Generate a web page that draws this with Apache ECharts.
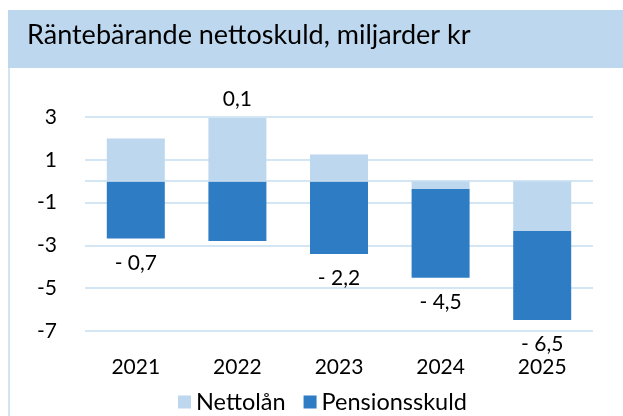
<!DOCTYPE html>
<html>
<head>
<meta charset="utf-8">
<script src="https://cdn.jsdelivr.net/npm/echarts@6/dist/echarts.min.js"></script>
<style>
  html, body { margin: 0; padding: 0; background: #fff; }
  #container { width: 623px; height: 416px; }
</style>
</head>
<body>
<div id="container"></div>
<script>
// data
var years = ['2021', '2022', '2023', '2024', '2025'];
var nettolan = [2.0, 2.95, 1.25, -0.37, -2.33];
var pensionsskuld = [-2.68, -2.8, -3.4, -4.14, -4.16];
var totals = [-0.7, 0.1, -2.2, -4.5, -6.5];
var yTicks = [-7, -5, -3, -1, 1, 3];

var fnt = 'Lato, "Open Sans", sans-serif';
var light = '#bdd7ee';
var dark = '#2e7cc4';
var gridCol = '#c6dcf0';

function fmt(v) {
  var s = Math.abs(v).toFixed(1).replace('.', ',');
  return v < 0 ? '- ' + s : s;
}

// total label goes on the outermost bar: top of Nettolån if positive, bottom of Pensionsskuld if negative
var lanData = nettolan.map(function (v, i) {
  var item = { value: v };
  if (totals[i] >= 0) {
    item.label = { show: true, position: 'top', distance: 8, formatter: fmt(totals[i]) };
  }
  return item;
});
var penData = pensionsskuld.map(function (v, i) {
  var item = { value: v };
  if (totals[i] < 0) {
    item.label = { show: true, position: 'bottom', distance: 14, formatter: fmt(totals[i]) };
  }
  return item;
});

var dom = document.getElementById('container');
var myChart = echarts.init(dom, null, { renderer: 'canvas' });

var option = {
  animation: false,
  textStyle: { fontFamily: fnt },
  graphic: [
    { type: 'rect', left: 8, top: 10, shape: { width: 615, height: 58 }, style: { fill: light } },
    { type: 'rect', left: 8, top: 68, shape: { width: 2, height: 348 }, style: { fill: '#d5e4f3' } },
    { type: 'text', left: 27, top: 22, style: { text: 'Räntebärande nettoskuld, miljarder kr', font: '27px ' + fnt, fill: '#000' } }
  ],
  grid: { left: 85, right: 30, top: 117, bottom: 85 },
  legend: {
    top: 390,
    left: 178,
    padding: [0, 0, 0, 0],
    itemWidth: 13,
    itemHeight: 13,
    itemGap: 18,
    icon: 'rect',
    textStyle: { fontSize: 23.5, color: '#000', fontFamily: fnt },
    data: ['Nettolån', 'Pensionsskuld']
  },
  xAxis: {
    type: 'category',
    data: years,
    position: 'bottom',
    axisLine: { show: false },
    axisTick: { show: false },
    axisLabel: { fontSize: 21, color: '#000', margin: 26, fontFamily: fnt }
  },
  yAxis: {
    type: 'value',
    min: yTicks[0],
    max: yTicks[yTicks.length - 1],
    interval: 2,
    axisLine: { show: false },
    axisTick: { show: false },
    axisLabel: { fontSize: 21, color: '#000', margin: 28, fontFamily: fnt },
    splitLine: { lineStyle: { color: gridCol, width: 1.5 } }
  },
  series: [
    {
      name: 'Nettolån',
      type: 'bar',
      stack: 'tot',
      barWidth: 58,
      itemStyle: { color: light },
      label: { color: '#000', fontSize: 21, fontFamily: fnt },
      data: lanData,
      markLine: {
        silent: true,
        symbol: 'none',
        label: { show: false },
        lineStyle: { color: gridCol, width: 1.5, type: 'solid' },
        data: [{ yAxis: 0 }]
      }
    },
    {
      name: 'Pensionsskuld',
      type: 'bar',
      stack: 'tot',
      barWidth: 58,
      itemStyle: { color: dark },
      label: { color: '#000', fontSize: 21, fontFamily: fnt },
      data: penData
    }
  ]
};

myChart.setOption(option);
window.addEventListener('resize', myChart.resize);
</script>
</body>
</html>
